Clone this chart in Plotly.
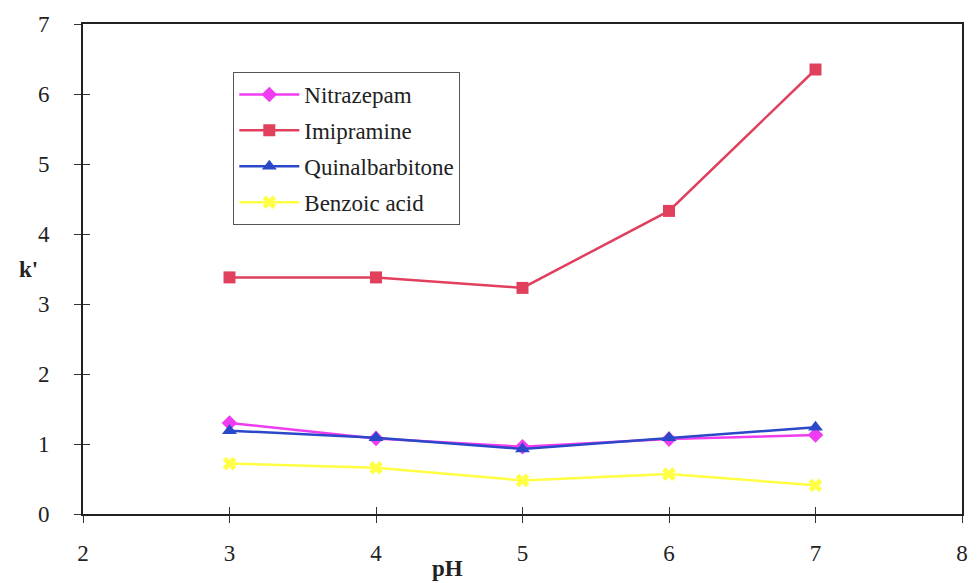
import plotly.graph_objects as go

ph = [3, 4, 5, 6, 7]
nitrazepam = [1.30, 1.08, 0.96, 1.07, 1.13]
imipramine = [3.38, 3.38, 3.23, 4.33, 6.35]
quinalbarbitone = [1.19, 1.09, 0.93, 1.09, 1.24]
benzoic_acid = [0.72, 0.66, 0.48, 0.57, 0.41]

x_ticks = [2, 3, 4, 5, 6, 7, 8]
y_ticks = [0, 1, 2, 3, 4, 5, 6, 7]

series = [
    ("Nitrazepam", nitrazepam, "#f03cf0", "diamond", 12),
    ("Imipramine", imipramine, "#e0405c", "square", 12),
    ("Quinalbarbitone", quinalbarbitone, "#2a48c8", "triangle-up", 13),
    ("Benzoic acid", benzoic_acid, "#ffff44", "x", 12),
]

fig = go.Figure()
for name, vals, col, sym, sz in series:
    fig.add_trace(go.Scatter(
        x=ph, y=vals, name=name, mode="lines+markers", legendgroup=name,
        line=dict(color=col, width=2.5),
        marker=dict(color=col, symbol=sym, size=sz, line=dict(width=0)),
    ))

FF = "Liberation Serif"
fig.update_layout(
    width=978, height=583,
    margin=dict(l=83, r=10, t=24, b=69),
    paper_bgcolor="white", plot_bgcolor="white",
    font=dict(family=FF, size=23, color="#222"),
    showlegend=True,
    legend=dict(
        x=0.171, y=0.902, xanchor="left", yanchor="top",
        bgcolor="white", bordercolor="#555", borderwidth=1,
        font=dict(family=FF, size=23, color="#222"),
        tracegroupgap=3, itemwidth=60,
    ),
    xaxis=dict(
        range=[2, 8], tickvals=x_ticks, ticktext=[str(v) for v in x_ticks],
        showgrid=False, zeroline=False,
        showline=True, linecolor="#222", linewidth=2, mirror=True,
        ticks="outside", ticklen=7, tickwidth=1, tickcolor="#333",
        ticklabelstandoff=10,
        tickfont=dict(family=FF, size=23),
    ),
    yaxis=dict(
        range=[0, 7], tickvals=y_ticks, ticktext=[str(v) for v in y_ticks],
        showgrid=False, zeroline=False,
        showline=True, linecolor="#222", linewidth=2, mirror=True,
        ticks="outside", ticklen=7, tickwidth=1, tickcolor="#333",
        ticklabelstandoff=20,
        tickfont=dict(family=FF, size=23),
    ),
    xaxis2=dict(
        range=[2, 8], tickvals=x_ticks, overlaying="x", matches="x",
        showticklabels=False, showgrid=False, zeroline=False, showline=False,
        ticks="inside", ticklen=7, tickwidth=1, tickcolor="#333",
    ),
    yaxis2=dict(
        range=[0, 7], tickvals=y_ticks, overlaying="y", matches="y",
        showticklabels=False, showgrid=False, zeroline=False, showline=False,
        ticks="inside", ticklen=7, tickwidth=1, tickcolor="#333",
    ),
    annotations=[
        dict(text="<b>pH</b>", xref="paper", yref="paper", x=0.415, y=-0.112,
             xanchor="center", yanchor="middle", showarrow=False,
             font=dict(family=FF, size=23, color="#222")),
        dict(text="<b>k'</b>", xref="paper", yref="paper", x=-0.062, y=0.498,
             xanchor="center", yanchor="middle", showarrow=False,
             font=dict(family=FF, size=23, color="#222")),
    ],
)
fig.add_trace(go.Scatter(x=[None], y=[None], xaxis="x2", yaxis="y2",
                         showlegend=False, hoverinfo="skip"))
fig.write_html("out.html")
